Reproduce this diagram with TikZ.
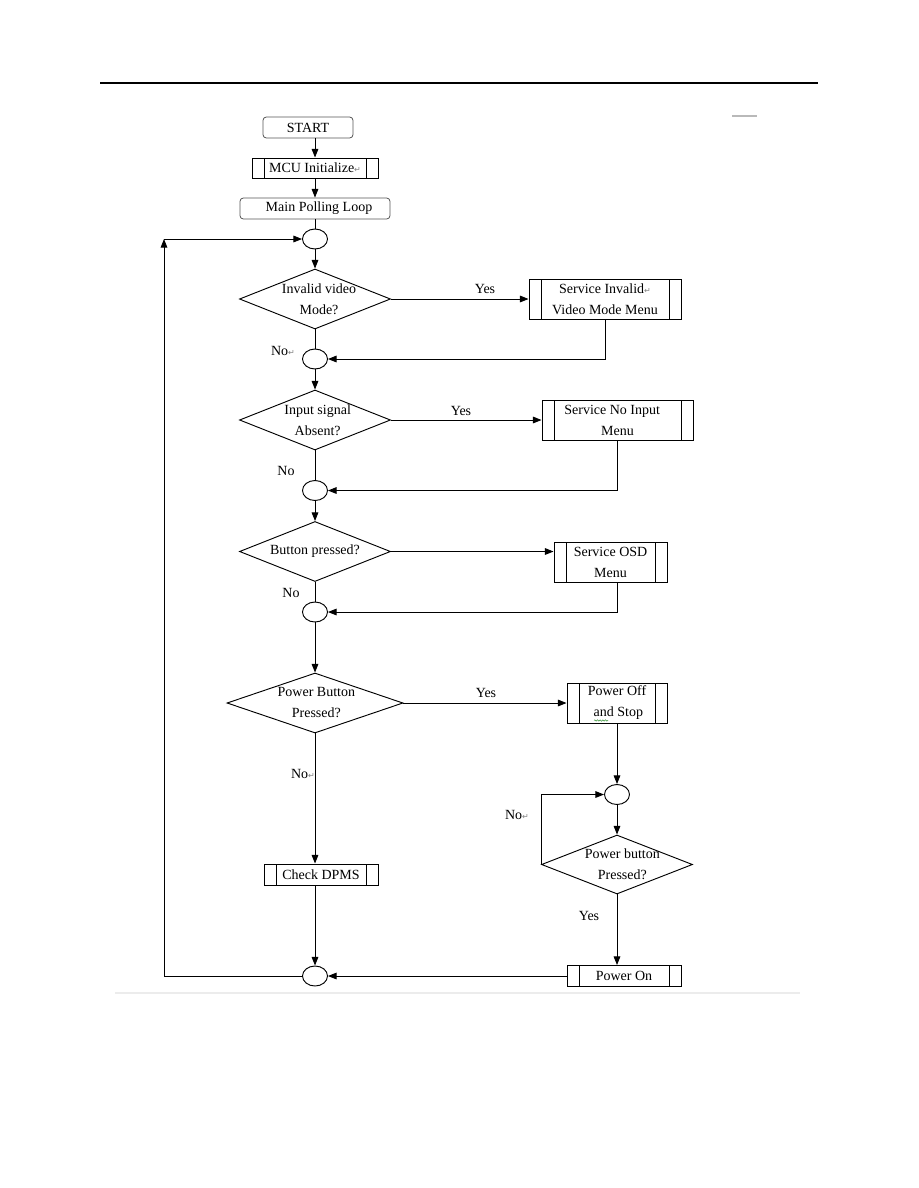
\documentclass[tikz,border=0pt]{standalone}
\usepackage{fontspec}
\setmainfont{Liberation Serif}
\newfontfamily\symfont{DejaVu Sans}
\usepackage{xcolor}
\definecolor{rahmengrau}{RGB}{85,85,85}
\definecolor{wellengruen}{RGB}{60,150,60}
\usetikzlibrary{shapes.geometric,arrows.meta,decorations.pathmorphing}
\newcommand{\retsym}{{\symfont\fontsize{6}{6}\selectfont\textcolor{gray}{↵}}}

\begin{document}
\begin{tikzpicture}[x=0.75pt,y=-0.75pt,
    every node/.style={font=\fontsize{10.5}{15.75}\selectfont, inner sep=0pt},
    pfeil/.style={-{Triangle[length=6.5pt,width=5pt]}},
    endbox/.style={draw=rahmengrau, semithick, rectangle, rounded corners=2.5pt,
        minimum height=15.75pt},
    unterbox/.style={draw, rectangle, align=center, minimum height=30pt,
        path picture={\draw ([xshift=#1]path picture bounding box.north west)
            -- ([xshift=#1]path picture bounding box.south west)
            ([xshift=-#1]path picture bounding box.north east)
            -- ([xshift=-#1]path picture bounding box.south east);}},
    unterbox/.default=9pt,
    frage/.style={draw, diamond, minimum width=113.25pt, minimum height=45pt},
    fragetext/.style={align=center},
    knoten/.style={draw, ellipse, minimum width=18.75pt, minimum height=15pt},
    antwort/.style={anchor=center},
    line width=0.7pt]

    % Seitenrahmen
    \useasboundingbox (0,0) rectangle (918,1188);
    \draw[line width=2.2pt] (100,83) -- (818,83);
    \draw[gray!55, line width=0.9pt] (732,116) -- (757,116);
    \draw[gray!15, line width=0.9pt] (115,993) -- (800,993);

    % Start und Initialisierung
    \node[endbox, minimum width=67.5pt] (start) at (308,127.5) {START};
    \node[unterbox, minimum width=94.5pt, minimum height=15pt] (mcu) at (315,168) {MCU Initialize\retsym};
    \node[endbox, minimum width=112.5pt] (poll) at (315,208.5) {\hspace*{6pt}Main Polling Loop};
    \node[knoten] (k1) at (315,239) {};
    \coordinate (rueck) at (164,239);

    % Abfrage: ungueltiger Videomodus
    \node[frage, label={[fragetext, xshift=3pt]center:{Invalid video\\Mode?}}] (inv) at (315,299) {};
    \node[unterbox] (svinv) at (605,299) [minimum width=114pt] {Service Invalid\retsym\\Video Mode Menu};
    \node[knoten] (k2) at (315,359) {};

    % Abfrage: kein Eingangssignal
    \node[frage, label={[fragetext, xshift=2pt]center:{Input signal\\Absent?}}] (abs) at (315,420) {};
    \node[unterbox, minimum width=113.25pt] (svnoin) at (617.5,420) {\hspace*{-8pt}Service No Input\\Menu};
    \node[knoten] (k3) at (315,490.5) {};

    % Abfrage: Taste gedrueckt
    \node[frage, label={[fragetext]center:{Button pressed?}}] (btn) at (315,551.5) {};
    \node[unterbox, minimum width=84.75pt] (svosd) at (610.5,562) {Service OSD\\Menu};
    \node[knoten] (k4) at (315,612) {};

    % Abfrage: Netztaste gedrueckt
    \node[frage, minimum width=132pt, label={[fragetext, xshift=1pt]center:{Power Button\\Pressed?}}] (pwr) at (315,703) {};
    \node[unterbox, minimum width=75pt] (poff) at (617,703) {Power Off\\\hspace*{2pt}and Stop};
    \draw[wellengruen, line width=0.4pt, decorate, decoration={snake, amplitude=0.5pt, segment length=2pt}]
        (594,720.5) -- (608,720.5);
    \node[knoten] (k5) at (617,794.5) {};
    \node[frage, minimum height=44.25pt, label={[fragetext, xshift=4pt]center:{Power button\\Pressed?}}] (pwr2) at (617,864.5) {};
    \node[unterbox, minimum width=85.5pt, minimum height=15.75pt] (pon) at (624,976) {Power On};

    % DPMS und Sammelknoten
    \node[unterbox, minimum width=85.5pt, minimum height=15.75pt] (dpms) at (321,874.5) {Check DPMS};
    \node[knoten] (k6) at (315,976) {};

    % Beschriftungen Ja / Nein
    \node[antwort] (ja1) at (485,289) {Yes};
    \node[antwort] (ja2) at (461,411) {Yes};
    \node[antwort] (ja3) at (486,693) {Yes};
    \node[antwort] (ja4) at (589,916) {Yes};
    \node[antwort] (nein1) at (283,351) {No\retsym};
    \node[antwort] (nein2) at (286,471) {No};
    \node[antwort] (nein3) at (291,593) {No};
    \node[antwort] (nein4) at (303,774) {No\retsym};
    \node[antwort] (nein5) at (517,815) {No\retsym};

    % Verbindungen Hauptspalte
    \draw[pfeil] (start.south -| mcu) -- (mcu);
    \draw[pfeil] (mcu) -- (poll);
    \draw (poll) -- (k1);
    \draw[pfeil] (k1) -- (inv);
    \draw (inv) -- (k2);
    \draw[pfeil] (k2) -- (abs);
    \draw (abs) -- (k3);
    \draw[pfeil] (k3) -- (btn);
    \draw (btn) -- (k4);
    \draw[pfeil] (k4) -- (pwr);
    \draw[pfeil] (pwr.south) -- (pwr.south |- dpms.north);
    \draw[pfeil] (dpms.south -| k6) -- (k6);

    % Verbindungen zu den Unterprogrammen
    \draw[pfeil] (inv) -- (svinv);
    \draw[pfeil] (svinv.south) |- (k2);
    \draw[pfeil] (abs) -- (svnoin);
    \draw[pfeil] (svnoin.south) |- (k3);
    \draw[pfeil] (btn) -- (btn -| svosd.west);
    \draw[pfeil] ([xshift=5.5pt]svosd.south) |- (k4);
    \draw[pfeil] (pwr) -- (poff);
    \draw[pfeil] (poff) -- (k5);
    \draw[pfeil] (k5) -- (pwr2);
    \draw[pfeil] (pwr2.west) |- (k5);
    \draw[pfeil] (pwr2.south) -- (pwr2.south |- pon.north);
    \draw[pfeil] (pon) -- (k6);

    % Ruecksprung in die Hauptschleife
    \draw[pfeil] (k6) -| (rueck);
    \draw[pfeil] (rueck) -- (k1);

\end{tikzpicture}
\end{document}
